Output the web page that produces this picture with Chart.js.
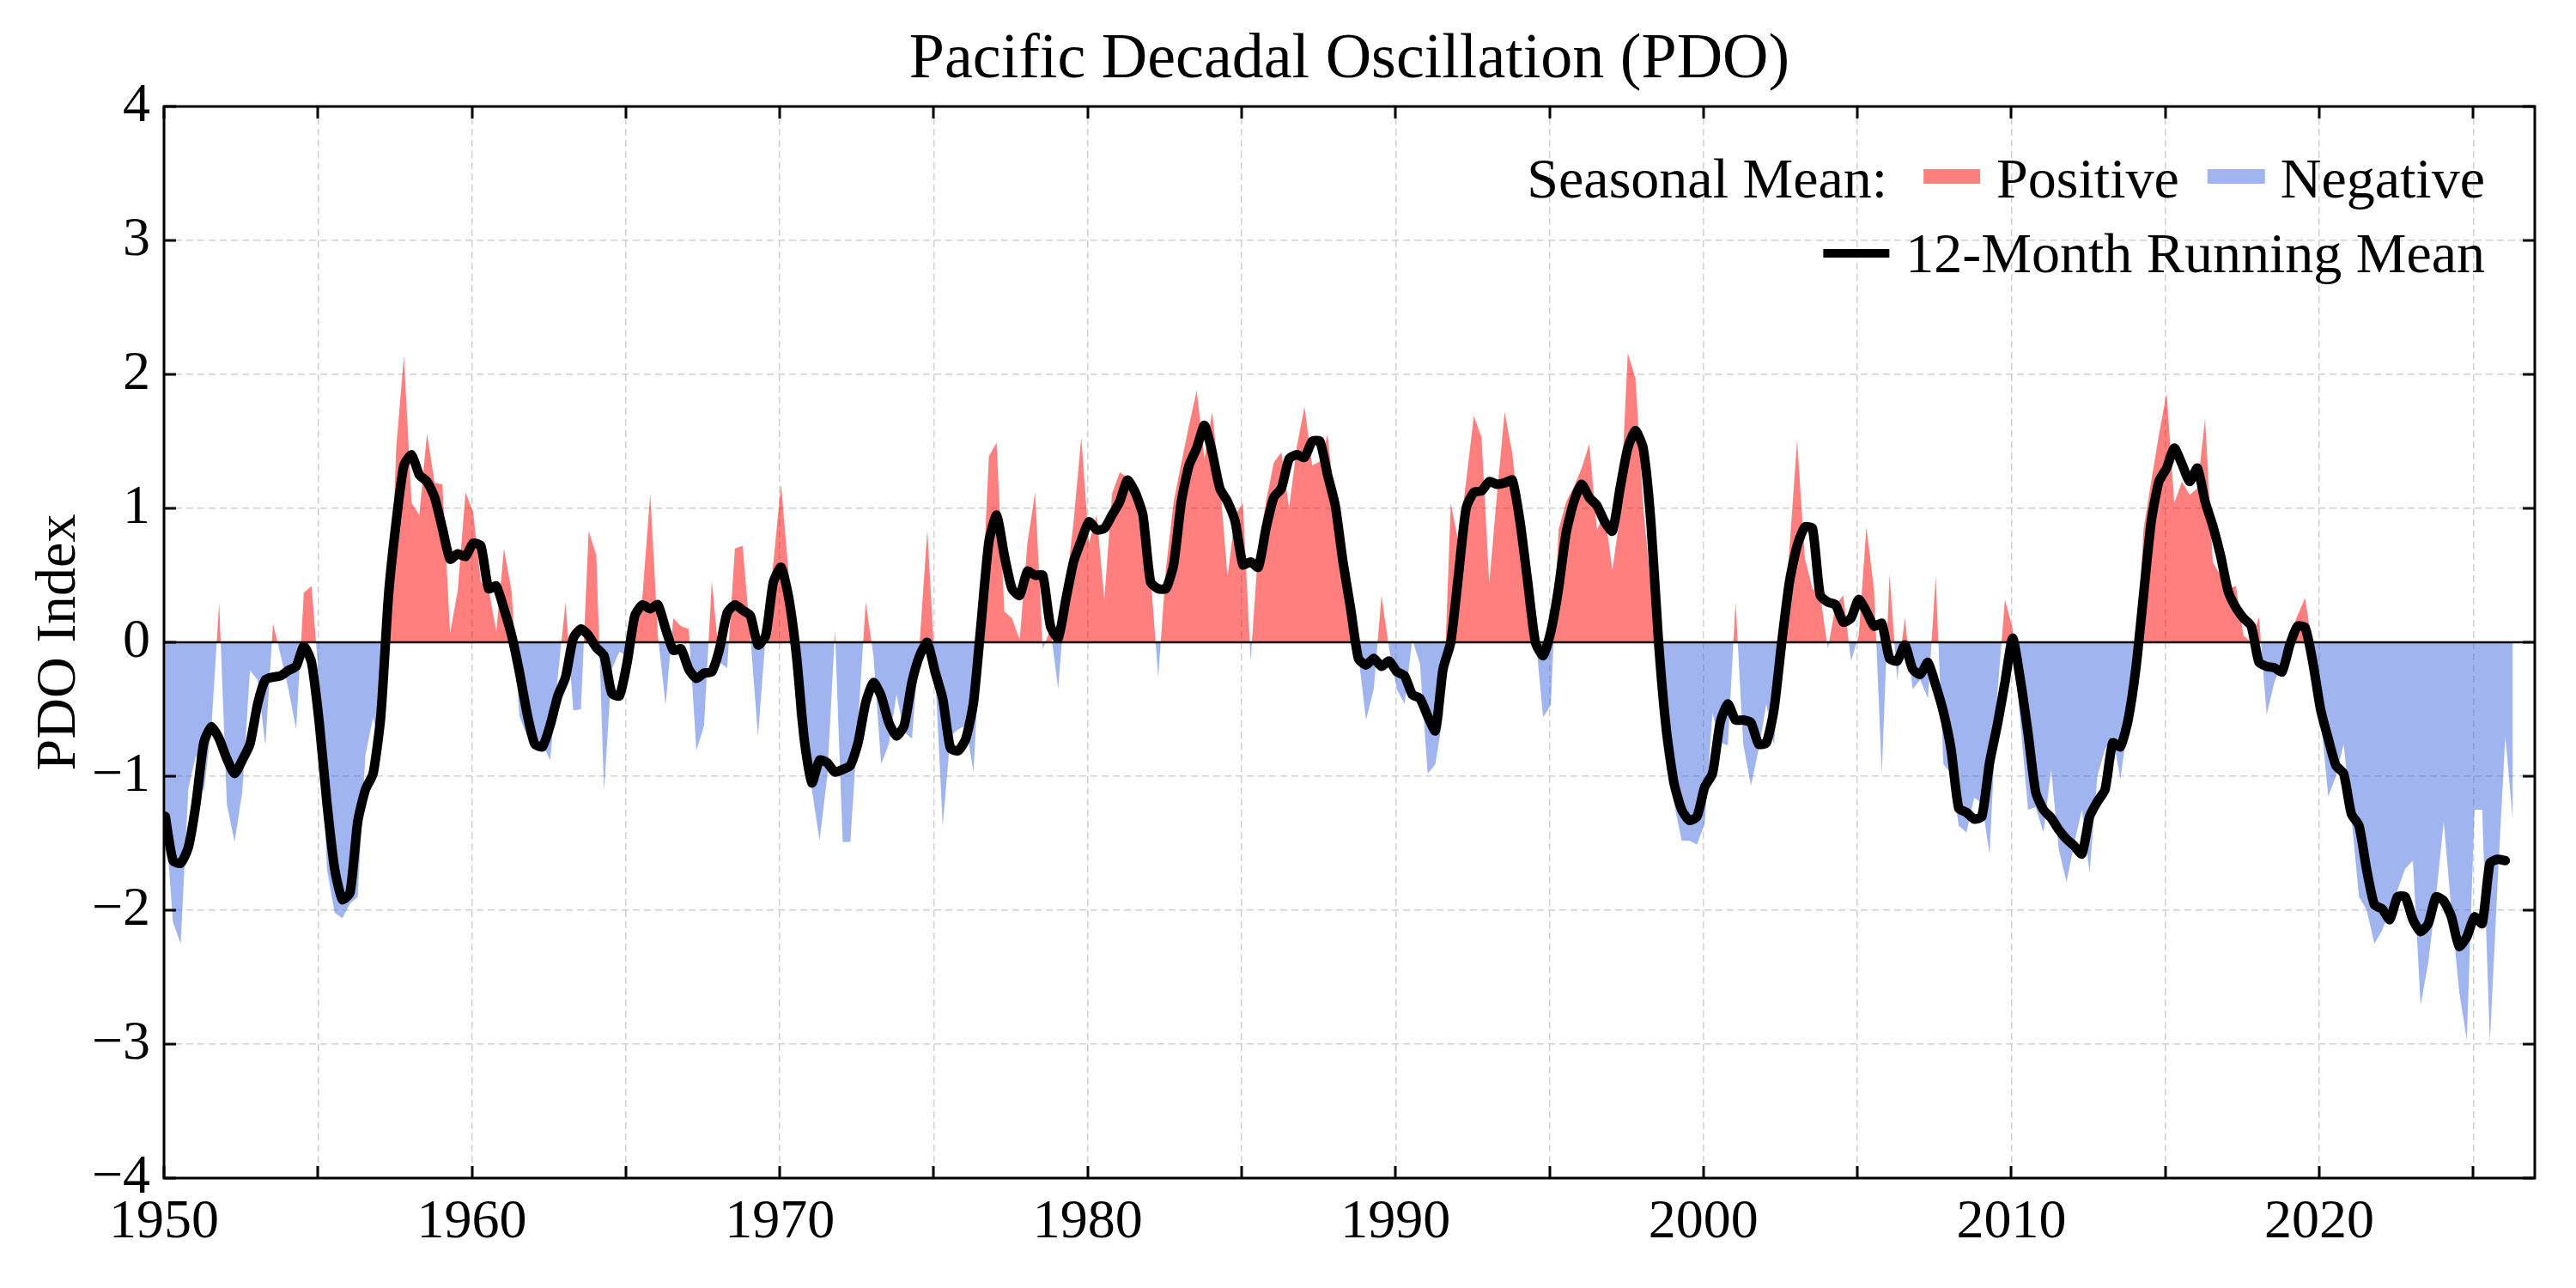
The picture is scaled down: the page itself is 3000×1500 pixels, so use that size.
<!DOCTYPE html>
<html>
<head>
<meta charset="utf-8">
<title>Pacific Decadal Oscillation (PDO)</title>
<script src="https://cdn.jsdelivr.net/npm/chart.js@4.4.1/dist/chart.umd.min.js"></script>
<style>
  html, body { margin: 0; padding: 0; background: #fff; }
  #wrap { width: 3000px; height: 1500px; }
</style>
</head>
<body>
<div id="wrap"><canvas id="pdo"></canvas></div>
<script>
// one value every 3 months, the first one is January 1950
var sampleStart = 1950 + 0.5 / 12;
var sampleStep = 0.25;

// seasonal (3-month) mean of the PDO index, 4 values per row = 1 year
var seasonalMean = [
  -1.30, -2.09, -2.25, -1.09,   // 1950
  -0.84, -1.12, -0.63,  0.30,
  -1.21, -1.49, -1.12, -0.21,
  -0.28, -0.77,  0.14, -0.10,
  -0.35, -0.65,  0.37,  0.42,
  -0.30, -1.69, -2.02, -2.06,
  -1.95, -1.90, -0.84, -0.56,
  -0.81, -0.10,  1.45,  2.14,
   1.04,  0.95,  1.56,  1.19,
   1.18,  0.07,  0.39,  1.12,
   0.97,  0.45,  0.40,  0.08,   // 1960
   0.70,  0.38, -0.55, -0.70,
  -0.72, -0.76, -0.88, -0.25,
   0.30, -0.51, -0.50,  0.83,
   0.65, -1.11, -0.20, -0.07,
  -0.10,  0.05,  0.35,  1.11,
   0.05, -0.47,  0.18,  0.12,
   0.10, -0.81, -0.62,  0.46,
  -0.15, -0.19,  0.70,  0.72,
   0.05, -0.70,  0.05,  0.60,
   1.18,  0.50, -0.55, -0.90,   // 1970
  -1.10, -1.48, -1.00,  0.09,
  -1.49, -1.49, -0.60,  0.30,
  -0.10, -0.91, -0.76, -0.39,
  -0.67, -0.72,  0.00,  0.84,
  -0.20, -1.37, -0.70, -0.65,
  -0.62, -0.97,  0.15,  1.39,
   1.49,  0.23,  0.18,  0.02,
   0.74,  1.12, -0.05,  0.10,
  -0.35,  0.40,  0.90,  1.53,
   0.74,  0.95,  0.32,  1.11,   // 1980
   1.27,  1.23,  1.05,  0.74,
   0.50, -0.26,  0.55,  1.05,
   1.34,  1.62,  1.88,  1.37,
   1.72,  1.20,  0.49,  0.95,
   1.04, -0.14,  0.70,  1.05,
   1.34,  1.42,  1.00,  1.46,
   1.76,  1.32,  1.35,  1.55,
   1.02,  0.45,  0.10, -0.10,
  -0.58, -0.35,  0.35, -0.05,
  -0.35, -0.46,  0.02, -0.16,   // 1990
  -0.98, -0.91, -0.55,  1.04,
   0.75,  1.20,  1.69,  1.53,
   0.44,  1.10,  1.72,  1.41,
   0.85,  0.45,  0.05, -0.56,
  -0.47,  0.84,  1.05,  1.16,
   1.30,  1.48,  0.84,  0.97,
   0.54,  0.95,  2.16,  1.97,
   1.02,  0.40, -0.10, -0.80,
  -1.20, -1.48, -1.48, -1.51,
  -1.35, -0.53, -0.75, -0.77,   // 2000
   0.30, -0.76, -1.07, -0.80,
  -0.46, -0.77,  0.00,  0.70,
   1.51,  0.63,  0.40,  0.35,
  -0.05,  0.28,  0.35, -0.14,
   0.05,  0.86,  0.39, -0.98,
   0.51, -0.28,  0.18, -0.35,
  -0.28, -0.42,  0.49, -0.91,
  -0.98, -1.37, -1.42, -1.16,
  -1.20, -1.58, -0.40,  0.32,
   0.10, -0.60, -1.25, -1.23,   // 2010
  -1.42, -0.95, -1.55, -1.79,
  -1.50, -1.25, -1.72, -1.00,
  -0.80, -0.70, -1.02, -0.60,
  -0.20,  0.84,  1.20,  1.55,
   1.86,  1.04,  1.20,  1.10,
   1.15,  1.67,  0.60,  0.50,
   0.40,  0.42,  0.05,  0.00,
   0.19, -0.54, -0.30, -0.15,
   0.05,  0.20,  0.33, -0.05,
  -0.55, -1.15, -1.00, -0.76,   // 2020
  -1.30, -1.90, -2.00, -2.25,
  -2.15, -2.00, -1.85, -1.69,
  -1.63, -2.71, -2.39, -1.90,
  -1.34, -2.00, -2.60, -2.97,
  -1.25, -1.25, -2.99, -1.80,
  -0.70, -1.34                  // 2026
];

// 12-month running mean, same time steps
var runningMean = [
  -1.30, -1.63, -1.65, -1.53,   // 1950
  -1.20, -0.75, -0.63, -0.72,
  -0.87, -0.98, -0.88, -0.76,
  -0.46, -0.28, -0.26, -0.25,
  -0.21, -0.18, -0.03, -0.15,
  -0.60, -1.20, -1.69, -1.92,
  -1.87, -1.34, -1.10, -0.98,
  -0.55,  0.35,  0.90,  1.32,
   1.40,  1.25,  1.20,  1.08,
   0.85,  0.62,  0.66,  0.64,
   0.74,  0.72,  0.40,  0.42,   // 1960
   0.25,  0.05, -0.22, -0.53,
  -0.76, -0.78, -0.62, -0.40,
  -0.26,  0.03,  0.10,  0.05,
  -0.04, -0.10, -0.38, -0.40,
  -0.15,  0.20,  0.28,  0.25,
   0.28,  0.10, -0.06, -0.05,
  -0.20, -0.27, -0.23, -0.22,
  -0.05,  0.22,  0.28,  0.24,
   0.20, -0.02,  0.05,  0.45,
   0.56,  0.33, -0.10, -0.72,   // 1970
  -1.05, -0.88, -0.90, -0.97,
  -0.95, -0.92, -0.75, -0.45,
  -0.30, -0.40, -0.60, -0.70,
  -0.62, -0.30, -0.10,  0.00,
  -0.22, -0.42, -0.79, -0.81,
  -0.72, -0.45,  0.15,  0.75,
   0.95,  0.65,  0.40,  0.35,
   0.53,  0.50,  0.50,  0.12,
   0.03,  0.32,  0.60,  0.76,
   0.90,  0.84,  0.85,  0.95,   // 1980
   1.05,  1.21,  1.12,  0.95,
   0.45,  0.40,  0.40,  0.58,
   1.05,  1.32,  1.45,  1.62,
   1.42,  1.15,  1.05,  0.90,
   0.58,  0.60,  0.56,  0.85,
   1.08,  1.15,  1.37,  1.40,
   1.38,  1.50,  1.50,  1.25,
   1.02,  0.60,  0.25, -0.12,
  -0.17, -0.12, -0.18, -0.14,
  -0.22, -0.25, -0.39, -0.42,   // 1990
  -0.55, -0.66, -0.20,  0.00,
   0.50,  1.00,  1.12,  1.13,
   1.20,  1.18,  1.19,  1.21,
   0.90,  0.45,  0.00, -0.10,
   0.08,  0.40,  0.82,  1.05,
   1.18,  1.08,  1.02,  0.90,
   0.83,  1.15,  1.45,  1.58,
   1.45,  0.90,  0.00, -0.65,
  -1.05, -1.25, -1.33, -1.30,
  -1.08, -0.98, -0.60, -0.46,   // 2000
  -0.58, -0.58, -0.60, -0.76,
  -0.75, -0.50,  0.00,  0.45,
   0.72,  0.86,  0.85,  0.35,
   0.30,  0.28,  0.15,  0.18,
   0.32,  0.23,  0.12,  0.14,
  -0.12, -0.14, -0.02, -0.20,
  -0.24, -0.15, -0.32, -0.52,
  -0.80, -1.24, -1.27, -1.32,
  -1.30, -0.90, -0.62, -0.30,
   0.03, -0.28, -0.68, -1.12,   // 2010
  -1.25, -1.31, -1.40, -1.47,
  -1.52, -1.58, -1.30, -1.19,
  -1.10, -0.75, -0.78, -0.58,
  -0.20,  0.35,  0.90,  1.20,
   1.30,  1.45,  1.33,  1.20,
   1.30,  1.05,  0.87,  0.65,
   0.38,  0.26,  0.18,  0.12,
  -0.15, -0.18, -0.19, -0.22,
  -0.02,  0.12,  0.11, -0.15,
  -0.50, -0.72, -0.92, -0.98,   // 2020
  -1.28, -1.37, -1.70, -1.96,
  -1.99, -2.07, -1.90, -1.90,
  -2.07, -2.16, -2.10, -1.90,
  -1.93, -2.05, -2.27, -2.20,
  -2.05, -2.10, -1.65, -1.62,
  -1.63                         // 2026
];

var xRange = [1950, 2027];
var yRange = [-4, 4];
var xGridStep = 5;
var decadeLabels = [1950, 1960, 1970, 1980, 1990, 2000, 2010, 2020];

var SERIF = '"Liberation Serif", "Times New Roman", serif';
var POS_FILL = 'rgba(255, 0, 0, 0.5)';
var NEG_FILL = 'rgba(65, 105, 225, 0.5)';

function toPoints(values) {
  return values.map(function(v, i) {
    return { x: sampleStart + i * sampleStep, y: v };
  });
}

function fmtY(v) {
  return v < 0 ? '\u2212' + Math.abs(v) : String(v);
}

// box round the plot with inward ticks on all four sides
var frame = {
  id: 'frame',
  afterDraw: function(chart) {
    var ctx = chart.ctx, a = chart.chartArea;
    var xs = chart.scales.x, ys = chart.scales.y;
    var len = 14, v, p;
    ctx.save();
    ctx.strokeStyle = '#000';
    ctx.lineWidth = 3;
    ctx.beginPath();
    for (v = xRange[0]; v <= xRange[1]; v += xGridStep) {
      p = Math.round(xs.getPixelForValue(v));
      ctx.moveTo(p, a.bottom); ctx.lineTo(p, a.bottom - len);
      ctx.moveTo(p, a.top); ctx.lineTo(p, a.top + len);
    }
    for (v = yRange[0]; v <= yRange[1]; v += 1) {
      p = Math.round(ys.getPixelForValue(v));
      ctx.moveTo(a.left, p); ctx.lineTo(a.left + len, p);
      ctx.moveTo(a.right, p); ctx.lineTo(a.right - len, p);
    }
    ctx.stroke();
    ctx.strokeRect(a.left, a.top, a.right - a.left, a.bottom - a.top);
    ctx.restore();
  }
};

// two-row legend in the top right corner
var legendBox = {
  id: 'legendBox',
  afterDraw: function(chart) {
    var ctx = chart.ctx, a = chart.chartArea;
    var right = a.right - 58;
    var row1 = a.top + 106, row2 = a.top + 193;
    ctx.save();
    ctx.font = '66px ' + SERIF;
    ctx.fillStyle = '#000';
    ctx.textBaseline = 'alphabetic';
    ctx.textAlign = 'left';

    var x = right - ctx.measureText('Negative').width;
    ctx.fillText('Negative', x, row1);
    x -= 18 + 67;
    ctx.fillStyle = NEG_FILL;
    ctx.fillRect(x, row1 - 33, 67, 17);
    x -= 33 + ctx.measureText('Positive').width;
    ctx.fillStyle = '#000';
    ctx.fillText('Positive', x, row1);
    x -= 19 + 66;
    ctx.fillStyle = POS_FILL;
    ctx.fillRect(x, row1 - 33, 66, 17);
    x -= 42 + ctx.measureText('Seasonal Mean:').width;
    ctx.fillStyle = '#000';
    ctx.fillText('Seasonal Mean:', x, row1);

    x = right - ctx.measureText('12-Month Running Mean').width;
    ctx.fillText('12-Month Running Mean', x, row2);
    ctx.strokeStyle = '#000';
    ctx.lineWidth = 10;
    ctx.beginPath();
    ctx.moveTo(x - 96, row2 - 22);
    ctx.lineTo(x - 19, row2 - 22);
    ctx.stroke();
    ctx.restore();
  }
};

new Chart(document.getElementById('pdo'), {
  type: 'line',
  data: {
    datasets: [
      {
        label: '12-Month Running Mean',
        data: toPoints(runningMean),
        borderColor: '#000',
        borderWidth: 11,
        borderJoinStyle: 'round',
        borderCapStyle: 'round',
        pointRadius: 0,
        tension: 0.2,
        fill: false,
        order: 1
      },
      {
        label: 'zero',
        data: [{ x: xRange[0], y: 0 }, { x: xRange[1], y: 0 }],
        borderColor: '#000',
        borderWidth: 2.5,
        pointRadius: 0,
        fill: false,
        order: 2
      },
      {
        label: 'Seasonal Mean',
        data: toPoints(seasonalMean),
        borderColor: 'rgba(0,0,0,0)',
        borderWidth: 0,
        pointRadius: 0,
        tension: 0,
        fill: { target: { value: 0 }, above: POS_FILL, below: NEG_FILL },
        order: 3
      }
    ]
  },
  options: {
    responsive: true,
    maintainAspectRatio: false,
    animation: false,
    devicePixelRatio: 1,
    layout: { padding: { left: 0, right: 48, top: 0, bottom: 0 } },
    plugins: {
      legend: { display: false },
      tooltip: { enabled: false },
      title: {
        display: true,
        fullSize: false,
        text: 'Pacific Decadal Oscillation (PDO)',
        color: '#000',
        font: { family: SERIF, size: 74, weight: 'normal', lineHeight: 1.2 },
        padding: { top: 26, bottom: 9.2 }
      }
    },
    scales: {
      x: {
        type: 'linear',
        min: xRange[0],
        max: xRange[1],
        grid: { color: '#d0d0d0', lineWidth: 1.5, drawTicks: false },
        border: { display: false, dash: [8, 5] },
        ticks: {
          stepSize: xGridStep,
          includeBounds: false,
          autoSkip: false,
          maxRotation: 0,
          padding: 14,
          color: '#000',
          font: { family: SERIF, size: 64 },
          callback: function(v) { return decadeLabels.indexOf(v) >= 0 ? String(v) : ''; }
        },
        afterFit: function(s) { s.height = 128; }
      },
      y: {
        min: yRange[0],
        max: yRange[1],
        grid: { color: '#d0d0d0', lineWidth: 1.5, drawTicks: false },
        border: { display: false, dash: [8, 5] },
        ticks: {
          stepSize: 1,
          padding: 16,
          color: '#000',
          font: { family: SERIF, size: 64 },
          callback: function(v) { return fmtY(v); }
        },
        title: {
          display: true,
          text: 'PDO Index',
          color: '#000',
          font: { family: SERIF, size: 66, lineHeight: 1.2 },
          padding: { top: 30, bottom: 0 }
        },
        afterFit: function(s) { s.width = 191; }
      }
    }
  },
  plugins: [frame, legendBox]
});
</script>
</body>
</html>
